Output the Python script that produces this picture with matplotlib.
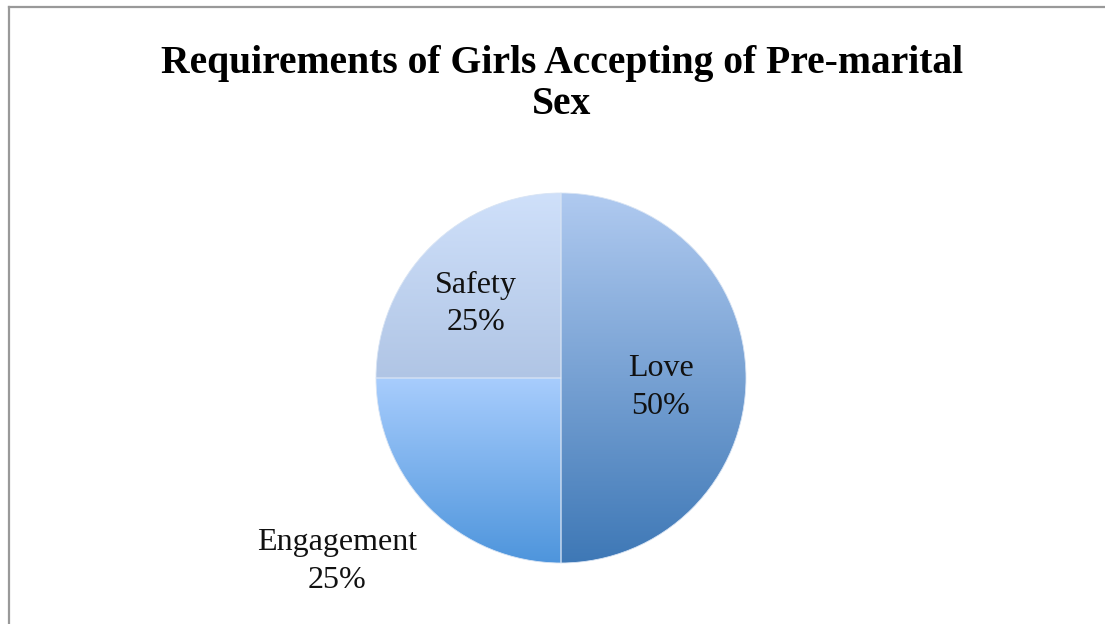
import numpy as np
import matplotlib
matplotlib.use("Agg")
import matplotlib.pyplot as plt
from matplotlib.lines import Line2D
from matplotlib.colors import LinearSegmentedColormap

labels = ["Love", "Engagement", "Safety"]
values = [50, 25, 25]
pct_labels = ["50%", "25%", "25%"]
title = "Requirements of Girls Accepting of Pre-marital\nSex"

# gradient colours (top, bottom) per slice
grad_colors = [("#b0caf0", "#3e78b6"), ("#a8cdfd", "#4e95dc"), ("#cfe0fa", "#b0c5e5")]
# label positions (data coords, pie radius 1)
label_pos = [(0.54, -0.05), (-1.21, -0.99), (-0.46, 0.40)]

W, H = 1105, 624
fig = plt.figure(figsize=(W / 100, H / 100), dpi=100)
fig.patch.set_facecolor("white")

cx, cy, r = 561, 378, 185
ax = fig.add_axes([(cx - r) / W, (H - cy - r) / H, 2 * r / W, 2 * r / H])
ax.set_xlim(-1, 1)
ax.set_ylim(-1, 1)
ax.set_aspect("equal")
ax.axis("off")

wedges, _ = ax.pie(values, startangle=90, counterclock=False, radius=1,
                   wedgeprops=dict(edgecolor="#d8e4f4", linewidth=0.6))

for w, (c_top, c_bot) in zip(wedges, grad_colors):
    w.set_facecolor("none")
    ext = w.get_path().get_extents()
    cmap = LinearSegmentedColormap.from_list("g", [c_bot, c_top])
    grad = np.linspace(0, 1, 256).reshape(-1, 1)
    im = ax.imshow(grad, cmap=cmap, origin="lower", aspect="auto",
                   extent=[ext.x0, ext.x1, ext.y0, ext.y1], zorder=0.5,
                   interpolation="bilinear")
    im.set_clip_path(w)

ax.set_xlim(-1, 1)
ax.set_ylim(-1, 1)

for lab, pct, (x, y) in zip(labels, pct_labels, label_pos):
    ax.text(x, y, f"{lab}\n{pct}", ha="center", va="center",
            fontsize=23, family="Liberation Serif", color="#111111",
            linespacing=1.4, zorder=5)

fig.text(562 / W, 1 - 84 / H, title, ha="center", va="center",
         fontsize=28.5, fontweight="bold", family="Liberation Serif",
         linespacing=1.16)

# partial chart border
fig.add_artist(Line2D([8.5 / W, 8.5 / W], [0, 1 - 6.5 / H], color="#999999", lw=1.6))
fig.add_artist(Line2D([8.5 / W, 1], [1 - 6.5 / H, 1 - 6.5 / H], color="#999999", lw=1.6))

fig.savefig("out.png", dpi=100)
